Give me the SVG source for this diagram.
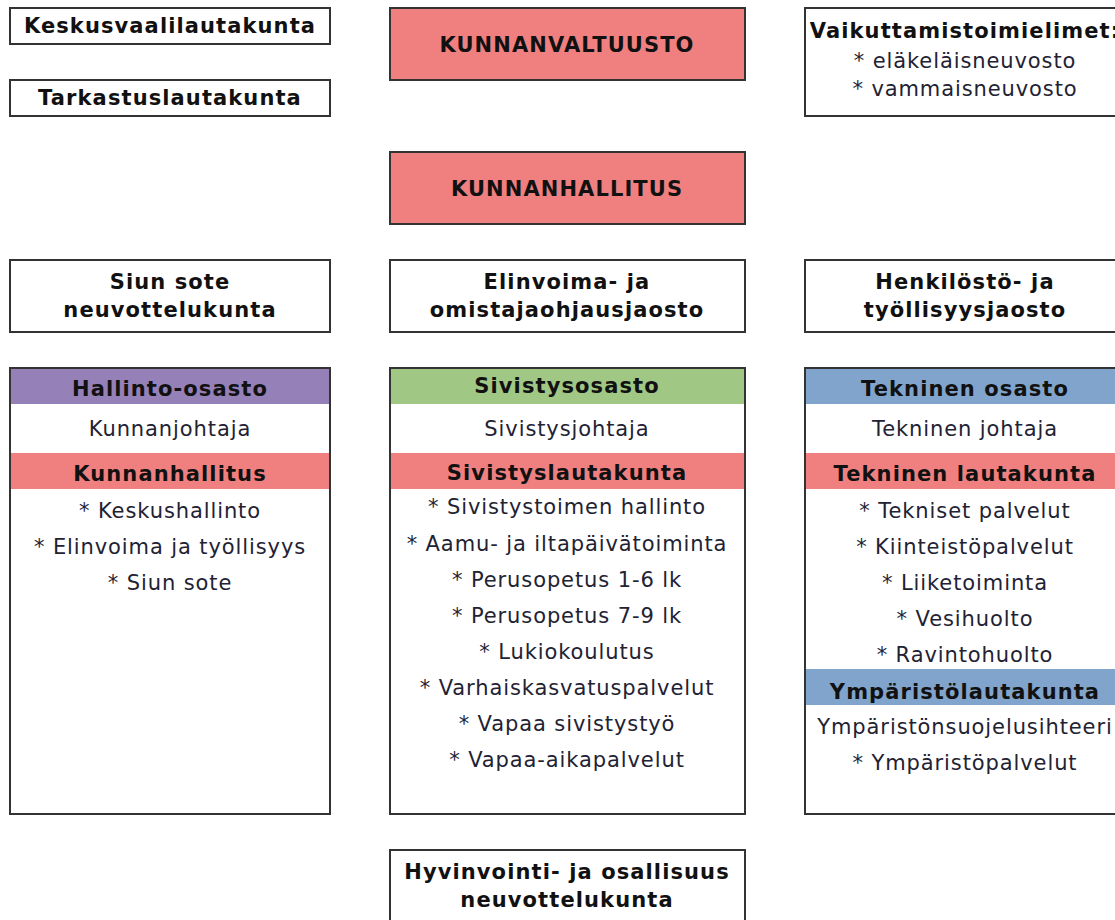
<svg xmlns="http://www.w3.org/2000/svg" width="1115" height="920" viewBox="0 0 1115 920">
<style>
.box{fill:#ffffff;stroke:#333333;stroke-width:2}
.red{fill:#f08080}
.purple{fill:#9580b8}
.green{fill:#a0c884}
.blue{fill:#80a4cc}
.b{font-family:"DejaVu Sans","Liberation Sans",sans-serif;font-weight:bold;font-size:21px;letter-spacing:1.1px;fill:#111111;text-anchor:middle}
.r{font-family:"DejaVu Sans","Liberation Sans",sans-serif;font-size:21px;letter-spacing:0.9px;fill:#222233;text-anchor:middle}
</style>
<rect width="1115" height="920" fill="#ffffff"/>
<g id="connectors"></g>
<g id="keskusvaalilautakunta">
<rect class="box" x="10" y="8" width="320" height="36"/>
<text class="b" x="170" y="33">Keskusvaalilautakunta</text>
</g>
<g id="tarkastuslautakunta">
<rect class="box" x="10" y="80" width="320" height="36"/>
<text class="b" x="170" y="105">Tarkastuslautakunta</text>
</g>
<g id="kunnanvaltuusto">
<rect class="box red" x="390" y="8" width="355" height="72"/>
<text class="b" x="567" y="52">KUNNANVALTUUSTO</text>
</g>
<g id="vaikuttamistoimielimet">
<rect class="box" x="805" y="8" width="320" height="108"/>
<text class="b" x="965" y="38">Vaikuttamistoimielimet:</text>
<text class="r" x="965" y="68">* eläkeläisneuvosto</text>
<text class="r" x="965" y="96">* vammaisneuvosto</text>
</g>
<g id="kunnanhallitus">
<rect class="box red" x="390" y="152" width="355" height="72"/>
<text class="b" x="567" y="196">KUNNANHALLITUS</text>
</g>
<g id="siun-sote">
<rect class="box" x="10" y="260" width="320" height="72"/>
<text class="b" x="170" y="289">Siun sote</text>
<text class="b" x="170" y="317">neuvottelukunta</text>
</g>
<g id="elinvoima">
<rect class="box" x="390" y="260" width="355" height="72"/>
<text class="b" x="567" y="289">Elinvoima- ja</text>
<text class="b" x="567" y="317">omistajaohjausjaosto</text>
</g>
<g id="henkilosto">
<rect class="box" x="805" y="260" width="320" height="72"/>
<text class="b" x="965" y="289">Henkilöstö- ja</text>
<text class="b" x="965" y="317">työllisyysjaosto</text>
</g>
<g id="hallinto-osasto">
<rect class="box" x="10" y="368" width="320" height="446"/>
<rect class="purple" x="11" y="369" width="318" height="35"/>
<rect class="red" x="11" y="453" width="318" height="36"/>
<text class="b" x="170" y="396">Hallinto-osasto</text>
<text class="r" x="170" y="436">Kunnanjohtaja</text>
<text class="b" x="170" y="481">Kunnanhallitus</text>
<text class="r" x="170" y="518">* Keskushallinto</text>
<text class="r" x="170" y="554">* Elinvoima ja työllisyys</text>
<text class="r" x="170" y="590">* Siun sote</text>
</g>
<g id="sivistysosasto">
<rect class="box" x="390" y="368" width="355" height="446"/>
<rect class="green" x="391" y="369" width="353" height="35"/>
<rect class="red" x="391" y="453" width="353" height="36"/>
<text class="b" x="567" y="393">Sivistysosasto</text>
<text class="r" x="567" y="436">Sivistysjohtaja</text>
<text class="b" x="567" y="480">Sivistyslautakunta</text>
<text class="r" x="567" y="514">* Sivistystoimen hallinto</text>
<text class="r" x="567" y="551">* Aamu- ja iltapäivätoiminta</text>
<text class="r" x="567" y="587">* Perusopetus 1-6 lk</text>
<text class="r" x="567" y="623">* Perusopetus 7-9 lk</text>
<text class="r" x="567" y="659">* Lukiokoulutus</text>
<text class="r" x="567" y="695">* Varhaiskasvatuspalvelut</text>
<text class="r" x="567" y="731">* Vapaa sivistystyö</text>
<text class="r" x="567" y="767">* Vapaa-aikapalvelut</text>
</g>
<g id="tekninen-osasto">
<rect class="box" x="805" y="368" width="320" height="446"/>
<rect class="blue" x="806" y="369" width="318" height="35"/>
<rect class="red" x="806" y="453" width="318" height="36"/>
<rect class="blue" x="806" y="669" width="318" height="36"/>
<text class="b" x="965" y="396">Tekninen osasto</text>
<text class="r" x="965" y="436">Tekninen johtaja</text>
<text class="b" x="965" y="481">Tekninen lautakunta</text>
<text class="r" x="965" y="518">* Tekniset palvelut</text>
<text class="r" x="965" y="554">* Kiinteistöpalvelut</text>
<text class="r" x="965" y="590">* Liiketoiminta</text>
<text class="r" x="965" y="626">* Vesihuolto</text>
<text class="r" x="965" y="662">* Ravintohuolto</text>
<text class="b" x="965" y="699">Ympäristölautakunta</text>
<text class="r" x="965" y="734">Ympäristönsuojelusihteeri</text>
<text class="r" x="965" y="770">* Ympäristöpalvelut</text>
</g>
<g id="hyvinvointi">
<rect class="box" x="390" y="850" width="355" height="80"/>
<text class="b" x="567" y="879">Hyvinvointi- ja osallisuus</text>
<text class="b" x="567" y="907">neuvottelukunta</text>
</g>
</svg>
